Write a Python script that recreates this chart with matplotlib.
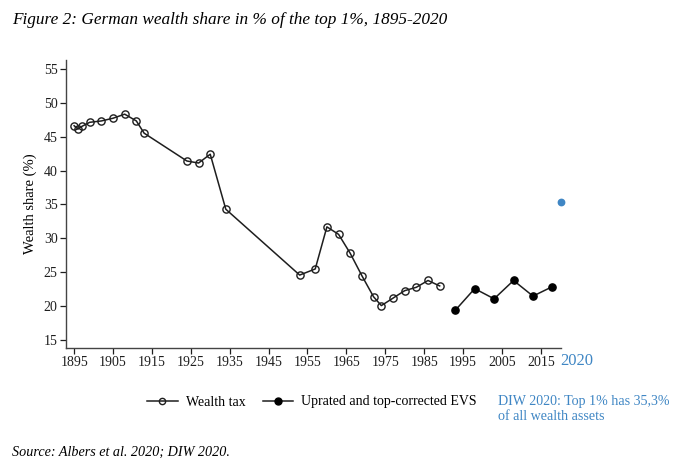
#!/usr/bin/env python3
"""German wealth share of the top 1%, 1895-2020."""

import matplotlib

matplotlib.use("Agg")
import matplotlib.pyplot as plt
from matplotlib.lines import Line2D

tax_years = [1895, 1896, 1897, 1899, 1902, 1905, 1908, 1911, 1913, 1924, 1927, 1930, 1934,
             1953, 1957, 1960, 1963, 1966, 1969, 1972, 1974, 1977, 1980, 1983, 1986, 1989]
tax_share = [46.6, 46.1, 46.5, 47.1, 47.3, 47.7, 48.3, 47.3, 45.5, 41.4, 41.1, 42.4, 34.3,
             24.6, 25.5, 31.7, 30.6, 27.8, 24.5, 21.4, 20.1, 21.2, 22.3, 22.8, 23.8, 23.0]

evs_years = [1993, 1998, 2003, 2008, 2013, 2018]
evs_share = [19.4, 22.6, 21.1, 23.8, 21.5, 22.9]

diw_year = 2020.2
diw_share = 35.3

x_ticks = [1895, 1905, 1915, 1925, 1935, 1945, 1955, 1965, 1975, 1985, 1995, 2005, 2015]
y_ticks = [15, 20, 25, 30, 35, 40, 45, 50, 55]

BLUE = "#3f86c4"
INK = "#1e1e1e"

plt.rcParams["font.family"] = ["Liberation Serif", "DejaVu Serif"]

fig = plt.figure(figsize=(6.8, 4.75), dpi=100)
ax = fig.add_axes([0.097, 0.268, 0.728, 0.606])

ax.plot(tax_years, tax_share, color=INK, lw=1.1, marker="o", ms=5.2,
        mfc="none", mec=INK, mew=1.0)
ax.plot(evs_years, evs_share, color=INK, lw=1.1, marker="o", ms=5.2,
        mfc="black", mec="black")
ax.plot([diw_year], [diw_share], marker="o", ms=4.6, color=BLUE, ls="none", clip_on=False)

ax.set_xlim(1892.9, 2020.2)
ax.set_ylim(13.9, 56.3)
ax.set_xticks(x_ticks)
ax.set_yticks(y_ticks)
ax.tick_params(labelsize=10, length=4, width=0.9, pad=2, direction="out", colors=INK)
for side in ("top", "right"):
    ax.spines[side].set_visible(False)
for side in ("left", "bottom"):
    ax.spines[side].set_color("#444444")
    ax.spines[side].set_linewidth(1.0)
ax.set_ylabel("Wealth share (%)", fontsize=10.5, labelpad=5)

ax.text(560.5 / 680, 1 - 361 / 475, "2020", color=BLUE, fontsize=12, ha="left",
        va="center", transform=fig.transFigure)

handles = [
    Line2D([], [], color=INK, lw=1.1, marker="o", ms=4.5, mfc="none", mec=INK),
    Line2D([], [], color=INK, lw=1.1, marker="o", ms=5, mfc="black", mec="black"),
]
fig.legend(handles, ["Wealth tax", "Uprated and top-corrected EVS"], loc="center",
           bbox_to_anchor=(0.459, 1 - 402 / 475), ncol=2, frameon=False, fontsize=10,
           handlelength=2.2, columnspacing=1.2, handletextpad=0.6)

fig.text(498 / 680, 1 - 409 / 475, "DIW 2020: Top 1% has 35,3%\nof all wealth assets",
         color=BLUE, fontsize=10.1, ha="left", va="center", linespacing=1.1)

fig.text(0.018, 1 - 20 / 475, "Figure 2: German wealth share in % of the top 1%, 1895-2020",
         fontsize=12.4, style="italic", ha="left", va="center")
fig.text(0.018, 1 - 452 / 475, "Source: Albers et al. 2020; DIW 2020.", fontsize=10.2,
         style="italic", ha="left", va="center")

fig.savefig("out.png", dpi=100)
